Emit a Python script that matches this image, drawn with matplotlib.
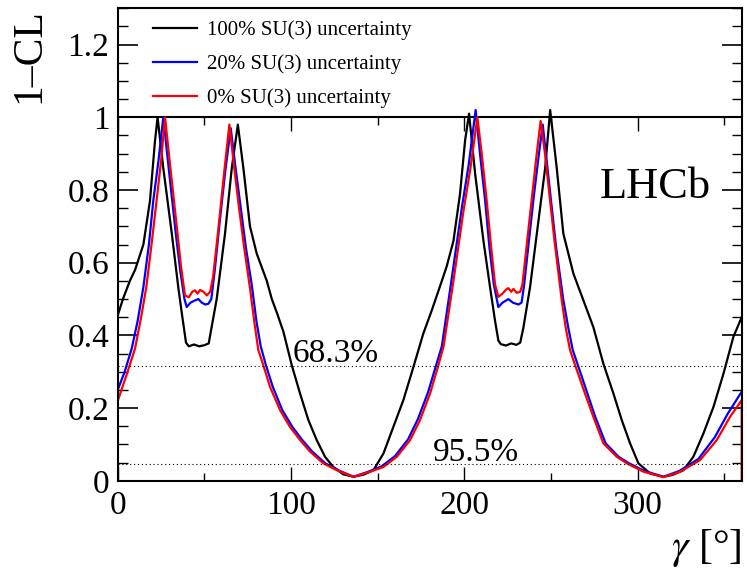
import numpy as np
import matplotlib
matplotlib.use('Agg')
import matplotlib.pyplot as plt
from matplotlib.ticker import MultipleLocator, FormatStrFormatter

# 100% SU(3) uncertainty (black)
gamma_100 = [0, 3, 7, 10, 14.8, 18.6, 21.5, 23, 26.3, 31.2, 35, 37, 39.4, 41, 44, 47, 50, 52.5,
             53.5, 57.1, 61.9, 65.8, 69.3, 72.5, 76.3, 80.2, 86, 88.9, 92, 95.6, 100.4, 105.2,
             110, 114.8, 119.6, 124.4, 130, 136, 142, 147.5, 153.3, 159, 164.8, 170.6, 176.3,
             181.2, 187, 189.8, 193.7, 197.5, 200.4, 202.7, 206.2, 211, 214.8, 217.7, 219.6,
             221, 224, 227, 230, 232.2, 234, 237.9, 241.8, 246.6, 249.5, 253.3, 257.1, 262.9,
             268.7, 274.4, 280.2, 286, 290.8, 295.6, 300.4, 307.2, 314.8, 320, 326.4, 332.1,
             337.9, 343.7, 349.5, 355.2, 360]
cl_100 = [0.455, 0.50, 0.55, 0.58, 0.65, 0.77, 0.935, 1.0, 0.86, 0.68, 0.53, 0.46, 0.38, 0.37,
          0.375, 0.37, 0.373, 0.378, 0.405, 0.50, 0.68, 0.86, 0.98, 0.86, 0.70, 0.625, 0.55,
          0.50, 0.46, 0.41, 0.318, 0.24, 0.167, 0.112, 0.066, 0.038, 0.018, 0.011, 0.017,
          0.029, 0.075, 0.148, 0.222, 0.313, 0.405, 0.469, 0.55, 0.59, 0.66, 0.79, 0.936,
          1.01, 0.845, 0.66, 0.533, 0.44, 0.386, 0.376, 0.372, 0.378, 0.374, 0.38, 0.42,
          0.533, 0.68, 0.86, 1.02, 0.86, 0.68, 0.57, 0.496, 0.423, 0.322, 0.24, 0.167, 0.103,
          0.048, 0.02, 0.011, 0.016, 0.029, 0.066, 0.13, 0.203, 0.295, 0.396, 0.45]

# 20% SU(3) uncertainty (blue)
gamma_20 = [0, 4, 8.1, 11.5, 14.8, 18, 20.5, 23.5, 26.3, 28.5, 31, 33.5, 36, 38.5, 39.8, 42, 44,
            46.5, 48.5, 50.5, 52.3, 54, 56, 59, 62, 65.2, 68, 71, 74, 77.3, 80, 82.5, 85.5, 89.5,
            95, 100.8, 106.5, 112.3, 119.8, 127.3, 136, 144.6, 152.3, 160, 167.5, 173.2, 179,
            183.7, 187, 192.5, 198.5, 202.5, 206.5, 209, 212, 214.5, 217, 219.6, 222, 225.4, 228,
            231.2, 233, 234.5, 237, 240, 242.5, 245.2, 247.5, 250, 253, 257, 260, 262.5, 265.5,
            271, 275.5, 281.5, 289, 295, 304, 314.8, 324, 335, 344.5, 352, 360]
cl_20 = [0.25, 0.30, 0.364, 0.44, 0.533, 0.65, 0.77, 0.88, 1.0, 0.9, 0.79, 0.68, 0.58, 0.50,
         0.478, 0.49, 0.495, 0.50, 0.49, 0.485, 0.487, 0.50, 0.58, 0.72, 0.85, 0.97, 0.86, 0.75,
         0.64, 0.54, 0.44, 0.37, 0.318, 0.258, 0.194, 0.148, 0.112, 0.08, 0.048, 0.029, 0.011,
         0.025, 0.04, 0.068, 0.114, 0.17, 0.243, 0.318, 0.37, 0.55, 0.75, 0.87, 1.02, 0.9, 0.77,
         0.64, 0.54, 0.478, 0.49, 0.50, 0.49, 0.485, 0.49, 0.54, 0.65, 0.78, 0.88, 0.98, 0.88,
         0.77, 0.64, 0.50, 0.42, 0.36, 0.318, 0.24, 0.176, 0.103, 0.066, 0.048, 0.027, 0.011,
         0.027, 0.06, 0.12, 0.185, 0.245]

# 0% SU(3) uncertainty (red)
gamma_0 = [0, 0, 5, 10, 13.5, 16.5, 19.5, 22.4, 25, 27.3, 29.5, 32, 34.5, 36.5, 38.8, 41, 43,
           44.6, 46, 47.5, 49.5, 51.4, 53.3, 55, 58, 61, 64.4, 67, 70, 73, 76.3, 79, 81.1, 84,
           87.9, 93.7, 99.4, 105.2, 111, 118.6, 126.4, 136, 145.6, 153.3, 161, 168.7, 174.4,
           180.2, 185, 188, 193.7, 199.4, 203.5, 207.5, 210, 212.9, 215.5, 217.7, 219.6, 222,
           224, 225.4, 227, 228.3, 230.2, 232.2, 233.5, 236, 239, 241.5, 244, 246.5, 249, 252,
           256.2, 258.5, 261, 263.9, 269.6, 274.4, 280.2, 287.9, 293.7, 303.3, 314.8, 324.5,
           336, 345.6, 353.3, 360, 360]
cl_0 = [0.0, 0.22, 0.29, 0.364, 0.45, 0.533, 0.65, 0.77, 0.88, 1.0, 0.9, 0.79, 0.68, 0.59, 0.51,
        0.505, 0.52, 0.524, 0.515, 0.525, 0.52, 0.51, 0.52, 0.56, 0.69, 0.83, 0.98, 0.87, 0.75,
        0.64, 0.53, 0.43, 0.36, 0.318, 0.258, 0.194, 0.148, 0.112, 0.08, 0.048, 0.029, 0.011,
        0.025, 0.038, 0.066, 0.112, 0.167, 0.24, 0.318, 0.37, 0.55, 0.74, 0.86, 1.0, 0.90, 0.77,
        0.64, 0.54, 0.506, 0.515, 0.526, 0.53, 0.52, 0.528, 0.517, 0.52, 0.54, 0.65, 0.78, 0.89,
        0.99, 0.9, 0.79, 0.66, 0.496, 0.42, 0.359, 0.318, 0.24, 0.176, 0.103, 0.066, 0.048,
        0.025, 0.01, 0.025, 0.057, 0.112, 0.176, 0.222, 0.0]

cl_levels = [0.317, 0.045]
cl_names = ['68.3%', '95.5%']
cl_text_pos = [(101, 0.327), (182, 0.055)]

plt.rcParams['font.family'] = ['Liberation Serif', 'DejaVu Serif']
plt.rcParams['mathtext.fontset'] = 'stix'

fig = plt.figure(figsize=(7.47, 5.71), dpi=100)
ax = fig.add_axes([0.1576, 0.158, 0.8353, 0.8275])

ax.plot(gamma_100, cl_100, color='black', lw=1.6, label='100% SU(3) uncertainty')
ax.plot(gamma_20, cl_20, color='blue', lw=1.6, label='20% SU(3) uncertainty')
ax.plot(gamma_0, cl_0, color='red', lw=1.6, label='0% SU(3) uncertainty')

for lev, name, pos in zip(cl_levels, cl_names, cl_text_pos):
    ax.axhline(lev, color='black', ls=(0, (1, 2.5)), lw=0.8)
    ax.text(pos[0], pos[1], name, fontsize=24, ha='left', va='baseline')

ax.text(342, 0.777, 'LHCb', fontsize=32, ha='right', va='baseline')

ax.set_xlim(0, 360)
ax.set_ylim(0, 1.3)
ax.xaxis.set_major_locator(MultipleLocator(100))
ax.xaxis.set_minor_locator(MultipleLocator(50))
ax.yaxis.set_major_locator(MultipleLocator(0.2))
ax.yaxis.set_minor_locator(MultipleLocator(0.05))
ax.yaxis.set_major_formatter(FormatStrFormatter('%g'))

ax.tick_params(axis='x', which='major', direction='in', length=10, width=1, top=False,
               labelsize=24, pad=7)
ax.tick_params(axis='x', which='minor', direction='in', length=5.5, width=1, top=False)
ax.tick_params(axis='y', which='major', direction='in', length=14.5, width=1.2,
               left=True, right=True, labelsize=24, pad=6)
ax.tick_params(axis='y', which='minor', direction='in', length=7.5, width=1,
               left=True, right=True)
for s in ax.spines.values():
    s.set_linewidth(1.5)

# x axis line at 1-CL = 1
sec = ax.secondary_xaxis(1 / 1.3)
sec.xaxis.set_major_locator(MultipleLocator(100))
sec.xaxis.set_minor_locator(MultipleLocator(50))
sec.tick_params(which='major', direction='in', length=10, width=1, labeltop=False)
sec.tick_params(which='minor', direction='in', length=5.5, width=1, labeltop=False)
sec.spines['top'].set_linewidth(1.5)

ax.set_ylabel('1–CL', fontsize=30, loc='top', labelpad=14)
ax.set_xlabel(r'$\gamma$ [°]', fontsize=30, loc='right', labelpad=4)

ax.legend(loc='upper left', bbox_to_anchor=(0.0566, 0.974), frameon=False, fontsize=15,
          handlelength=2.1, handletextpad=0.5, labelspacing=0.68, borderpad=0,
          borderaxespad=0)

fig.savefig('out.png', dpi=100)
